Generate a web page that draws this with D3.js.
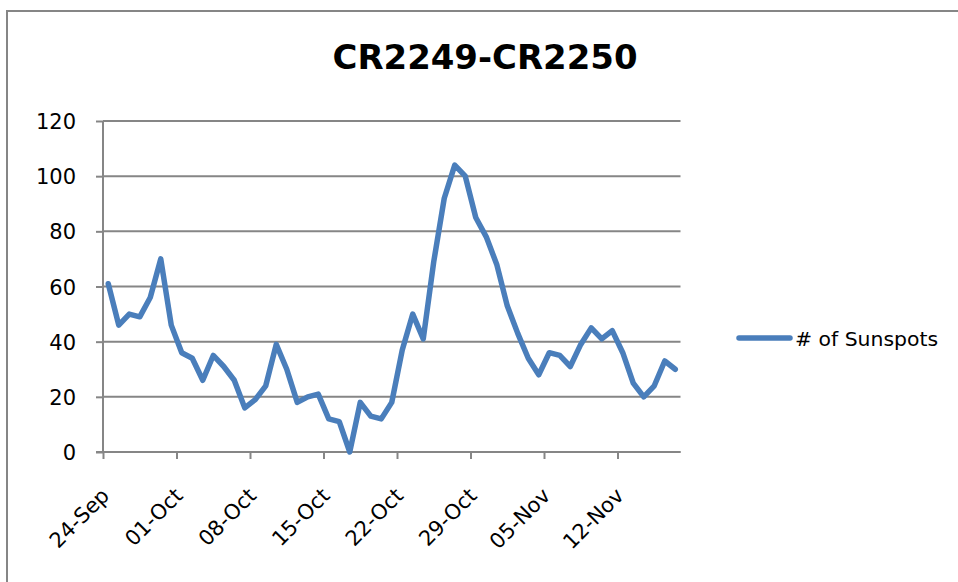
<!DOCTYPE html>
<html>
<head>
<meta charset="utf-8">
<title>CR2249-CR2250</title>
<script src="https://cdn.jsdelivr.net/npm/d3@7/dist/d3.min.js"></script>
<style>
    body { margin: 0; background: #fff; }
    svg text { font-family: "DejaVu Sans", sans-serif; fill: #000; }
</style>
</head>
<body>
<script>
// Daily sunspot numbers, 24-Sep to 17-Nov
var startDay = '2021-09-24';
var sunspots = [61, 46, 50, 49, 56, 70, 46, 36, 34, 26, 35, 31, 26, 16, 19, 24, 39, 30, 18, 20,
    21, 12, 11, 0, 18, 13, 12, 18, 37, 50, 41, 69, 92, 104, 100, 85, 78, 68, 53, 43,
    34, 28, 36, 35, 31, 39, 45, 41, 44, 36, 25, 20, 24, 33, 30];
var yTicks = [0, 20, 40, 60, 80, 100, 120];
var seriesName = '# of Sunspots';
var chartTitle = 'CR2249-CR2250';

var width = 958,
    height = 582;
var plotLeft = 103, plotRight = 680.5, plotTop = 121, plotBottom = 452;
var grey = '#868686', blue = '#4a7ebb';

var parse = d3.utcParse('%Y-%m-%d');
var t0 = parse(startDay);
var days = sunspots.map(function(d, i) { return d3.utcDay.offset(t0, i); });
var t1 = d3.utcDay.offset(t0, sunspots.length);

var svg = d3.select('body').append('svg')
    .attr('width', width)
    .attr('height', height);

// chart frame (only left and top edges are inside the picture)
svg.append('rect')
    .attr('x', 7).attr('y', 11)
    .attr('width', 1000).attr('height', 1000)
    .attr('fill', 'none')
    .attr('stroke', grey)
    .attr('stroke-width', 2);

var x = d3.scaleUtc().domain([t0, t1]).range([plotLeft, plotRight]);
var y = d3.scaleLinear().domain([0, 120]).range([plotBottom, plotTop]);

// gridlines
svg.append('g').selectAll('line')
    .data(yTicks)
    .enter().append('line')
    .attr('x1', plotLeft).attr('x2', plotRight)
    .attr('y1', function(d) { return y(d); })
    .attr('y2', function(d) { return y(d); })
    .attr('stroke', grey)
    .attr('stroke-width', 2);

// y axis
var yAxis = svg.append('g')
    .attr('transform', 'translate(' + plotLeft + ',0)')
    .call(d3.axisLeft(y).tickValues(yTicks).tickSize(7).tickPadding(20));
yAxis.select('.domain').attr('d', 'M0,' + plotTop + 'V' + plotBottom).attr('stroke', grey).attr('stroke-width', 2);
yAxis.selectAll('.tick line').attr('stroke', grey).attr('stroke-width', 2);
yAxis.selectAll('.tick text')
    .attr('font-size', 21)
    .attr('font-family', '"DejaVu Sans", sans-serif')
    .attr('dy', '0.36em');

// x axis, weekly ticks
var xTicks = d3.utcDay.range(t0, t1, 7);
var xAxis = svg.append('g')
    .attr('transform', 'translate(0,' + plotBottom + ')')
    .call(d3.axisBottom(x).tickValues(xTicks).tickFormat(d3.utcFormat('%d-%b')).tickSize(7));
xAxis.select('.domain').attr('d', 'M' + (plotLeft - 7) + ',0H' + plotRight).attr('stroke', grey).attr('stroke-width', 2);
xAxis.selectAll('.tick line').attr('stroke', grey).attr('stroke-width', 2);
xAxis.selectAll('.tick text')
    .attr('font-size', 21)
    .attr('font-family', '"DejaVu Sans", sans-serif')
    .attr('text-anchor', 'end')
    .attr('dy', null)
    .attr('y', null)
    .attr('transform', 'translate(7,45) rotate(-45)');

// the series, each point in the middle of its day
var halfDay = (x(d3.utcDay.offset(t0, 1)) - x(t0)) / 2;
var line = d3.line()
    .x(function(d, i) { return x(days[i]) + halfDay; })
    .y(function(d) { return y(d); });

svg.append('path')
    .datum(sunspots)
    .attr('d', line)
    .attr('fill', 'none')
    .attr('stroke', blue)
    .attr('stroke-width', 5.5)
    .attr('stroke-linejoin', 'round')
    .attr('stroke-linecap', 'round');

// title
svg.append('text')
    .attr('x', 485).attr('y', 69)
    .attr('text-anchor', 'middle')
    .attr('font-size', 33)
    .attr('font-weight', 'bold')
    .attr('textLength', 305)
    .attr('lengthAdjust', 'spacingAndGlyphs')
    .text(chartTitle);

// legend
svg.append('line')
    .attr('x1', 739).attr('x2', 790)
    .attr('y1', 338).attr('y2', 338)
    .attr('stroke', blue)
    .attr('stroke-width', 5.5)
    .attr('stroke-linecap', 'round');
svg.append('text')
    .attr('x', 795).attr('y', 346)
    .attr('font-size', 20)
    .attr('textLength', 143)
    .attr('lengthAdjust', 'spacingAndGlyphs')
    .text(seriesName);
</script>
</body>
</html>
